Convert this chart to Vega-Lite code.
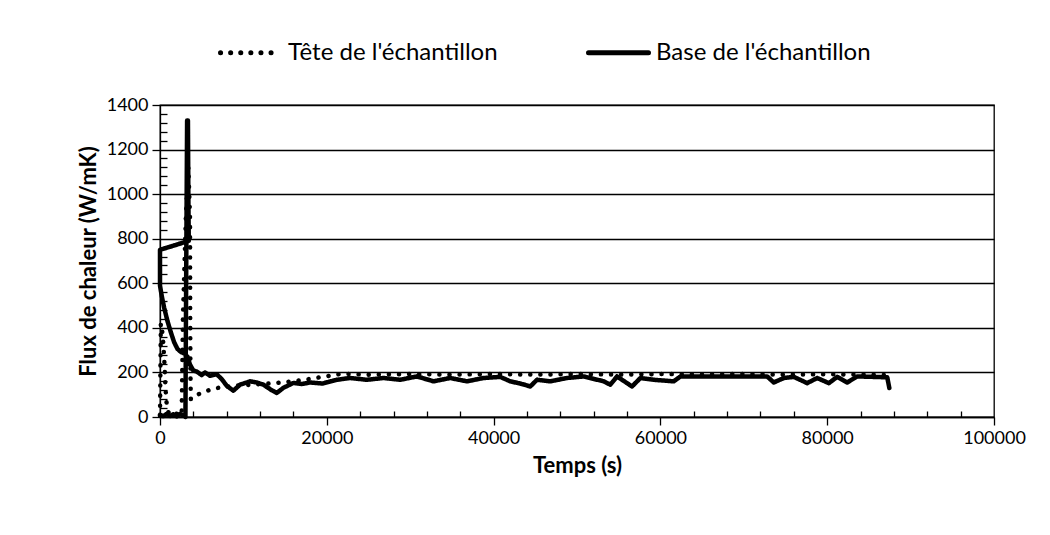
{
  "$schema": "https://vega.github.io/schema/vega-lite/v6.json",
  "autosize": {"type": "none"},
  "width": 834,
  "height": 312,
  "padding": {"left": 160, "top": 105, "right": 56, "bottom": 118},
  "background": "white",
  "config": {
    "font": "Lato",
    "view": {"stroke": "black", "strokeWidth": 1.3},
    "axis": {"labelFont": "Lato", "titleFont": "Lato", "labelFontSize": 18, "titleFontSize": 22, "titleFontWeight": "bold", "labelColor": "black", "titleColor": "black", "domainColor": "black", "tickColor": "black", "gridColor": "black", "domainWidth": 1.3, "tickWidth": 1.3, "gridWidth": 1.3, "labelOverlap": false, "labelFlush": false}
  },
  "data": {
    "values": [
      {"s": "Tête de l'échantillon", "i": 0, "t": 0, "v": 5},
      {"s": "Tête de l'échantillon", "i": 1, "t": 100, "v": 420},
      {"s": "Tête de l'échantillon", "i": 2, "t": 250, "v": 390},
      {"s": "Tête de l'échantillon", "i": 3, "t": 400, "v": 330},
      {"s": "Tête de l'échantillon", "i": 4, "t": 550, "v": 230},
      {"s": "Tête de l'échantillon", "i": 5, "t": 650, "v": 140},
      {"s": "Tête de l'échantillon", "i": 6, "t": 750, "v": 75},
      {"s": "Tête de l'échantillon", "i": 7, "t": 900, "v": 35},
      {"s": "Tête de l'échantillon", "i": 8, "t": 1100, "v": 12},
      {"s": "Tête de l'échantillon", "i": 9, "t": 1500, "v": 8},
      {"s": "Tête de l'échantillon", "i": 10, "t": 2000, "v": 15},
      {"s": "Tête de l'échantillon", "i": 11, "t": 2300, "v": 6},
      {"s": "Tête de l'échantillon", "i": 12, "t": 2600, "v": 10},
      {"s": "Tête de l'échantillon", "i": 13, "t": 2750, "v": 450},
      {"s": "Tête de l'échantillon", "i": 14, "t": 3100, "v": 900},
      {"s": "Tête de l'échantillon", "i": 15, "t": 3400, "v": 1120},
      {"s": "Tête de l'échantillon", "i": 16, "t": 3600, "v": 900},
      {"s": "Tête de l'échantillon", "i": 17, "t": 3620, "v": 500},
      {"s": "Tête de l'échantillon", "i": 18, "t": 3650, "v": 200},
      {"s": "Tête de l'échantillon", "i": 19, "t": 3700, "v": 80},
      {"s": "Tête de l'échantillon", "i": 20, "t": 4000, "v": 92},
      {"s": "Tête de l'échantillon", "i": 21, "t": 5400, "v": 115},
      {"s": "Tête de l'échantillon", "i": 22, "t": 6800, "v": 130},
      {"s": "Tête de l'échantillon", "i": 23, "t": 9000, "v": 140},
      {"s": "Tête de l'échantillon", "i": 24, "t": 11000, "v": 145},
      {"s": "Tête de l'échantillon", "i": 25, "t": 13800, "v": 152},
      {"s": "Tête de l'échantillon", "i": 26, "t": 17000, "v": 165},
      {"s": "Tête de l'échantillon", "i": 27, "t": 19500, "v": 180},
      {"s": "Tête de l'échantillon", "i": 28, "t": 21800, "v": 194},
      {"s": "Tête de l'échantillon", "i": 29, "t": 25000, "v": 190},
      {"s": "Tête de l'échantillon", "i": 30, "t": 30000, "v": 193},
      {"s": "Tête de l'échantillon", "i": 31, "t": 35000, "v": 190},
      {"s": "Tête de l'échantillon", "i": 32, "t": 40000, "v": 193},
      {"s": "Tête de l'échantillon", "i": 33, "t": 45000, "v": 190},
      {"s": "Tête de l'échantillon", "i": 34, "t": 50000, "v": 193},
      {"s": "Tête de l'échantillon", "i": 35, "t": 55000, "v": 190},
      {"s": "Tête de l'échantillon", "i": 36, "t": 60000, "v": 193},
      {"s": "Tête de l'échantillon", "i": 37, "t": 65000, "v": 191},
      {"s": "Tête de l'échantillon", "i": 38, "t": 70000, "v": 193},
      {"s": "Tête de l'échantillon", "i": 39, "t": 75000, "v": 190},
      {"s": "Tête de l'échantillon", "i": 40, "t": 80000, "v": 192},
      {"s": "Tête de l'échantillon", "i": 41, "t": 85000, "v": 190},
      {"s": "Tête de l'échantillon", "i": 42, "t": 87450, "v": 188},
      {"s": "Base de l'échantillon", "i": 0, "t": 0, "v": 10},
      {"s": "Base de l'échantillon", "i": 1, "t": 400, "v": 4},
      {"s": "Base de l'échantillon", "i": 2, "t": 800, "v": 14},
      {"s": "Base de l'échantillon", "i": 3, "t": 1200, "v": 5},
      {"s": "Base de l'échantillon", "i": 4, "t": 1600, "v": 12},
      {"s": "Base de l'échantillon", "i": 5, "t": 2000, "v": 3},
      {"s": "Base de l'échantillon", "i": 6, "t": 2400, "v": 14},
      {"s": "Base de l'échantillon", "i": 7, "t": 2800, "v": 6},
      {"s": "Base de l'échantillon", "i": 8, "t": 3000, "v": 8},
      {"s": "Base de l'échantillon", "i": 9, "t": 3050, "v": 0},
      {"s": "Base de l'échantillon", "i": 10, "t": 3150, "v": 700},
      {"s": "Base de l'échantillon", "i": 11, "t": 3250, "v": 1330},
      {"s": "Base de l'échantillon", "i": 12, "t": 3350, "v": 1330},
      {"s": "Base de l'échantillon", "i": 13, "t": 3400, "v": 1000},
      {"s": "Base de l'échantillon", "i": 14, "t": 3450, "v": 790},
      {"s": "Base de l'échantillon", "i": 15, "t": 0, "v": 750},
      {"s": "Base de l'échantillon", "i": 16, "t": 0, "v": 590},
      {"s": "Base de l'échantillon", "i": 17, "t": 200, "v": 545},
      {"s": "Base de l'échantillon", "i": 18, "t": 500, "v": 490},
      {"s": "Base de l'échantillon", "i": 19, "t": 900, "v": 430},
      {"s": "Base de l'échantillon", "i": 20, "t": 1300, "v": 380},
      {"s": "Base de l'échantillon", "i": 21, "t": 1700, "v": 335},
      {"s": "Base de l'échantillon", "i": 22, "t": 2100, "v": 305},
      {"s": "Base de l'échantillon", "i": 23, "t": 2500, "v": 292},
      {"s": "Base de l'échantillon", "i": 24, "t": 3000, "v": 283},
      {"s": "Base de l'échantillon", "i": 25, "t": 3300, "v": 270},
      {"s": "Base de l'échantillon", "i": 26, "t": 3600, "v": 235},
      {"s": "Base de l'échantillon", "i": 27, "t": 4000, "v": 208},
      {"s": "Base de l'échantillon", "i": 28, "t": 4400, "v": 204},
      {"s": "Base de l'échantillon", "i": 29, "t": 5000, "v": 188},
      {"s": "Base de l'échantillon", "i": 30, "t": 5400, "v": 200},
      {"s": "Base de l'échantillon", "i": 31, "t": 6000, "v": 185},
      {"s": "Base de l'échantillon", "i": 32, "t": 6800, "v": 192},
      {"s": "Base de l'échantillon", "i": 33, "t": 7400, "v": 170},
      {"s": "Base de l'échantillon", "i": 34, "t": 8000, "v": 140},
      {"s": "Base de l'échantillon", "i": 35, "t": 8800, "v": 118},
      {"s": "Base de l'échantillon", "i": 36, "t": 9600, "v": 145},
      {"s": "Base de l'échantillon", "i": 37, "t": 10800, "v": 160},
      {"s": "Base de l'échantillon", "i": 38, "t": 11600, "v": 155},
      {"s": "Base de l'échantillon", "i": 39, "t": 12400, "v": 145},
      {"s": "Base de l'échantillon", "i": 40, "t": 13400, "v": 120},
      {"s": "Base de l'échantillon", "i": 41, "t": 14000, "v": 108},
      {"s": "Base de l'échantillon", "i": 42, "t": 14800, "v": 131},
      {"s": "Base de l'échantillon", "i": 43, "t": 16000, "v": 153},
      {"s": "Base de l'échantillon", "i": 44, "t": 17000, "v": 148},
      {"s": "Base de l'échantillon", "i": 45, "t": 18000, "v": 155},
      {"s": "Base de l'échantillon", "i": 46, "t": 19500, "v": 150},
      {"s": "Base de l'échantillon", "i": 47, "t": 21200, "v": 167},
      {"s": "Base de l'échantillon", "i": 48, "t": 22800, "v": 175},
      {"s": "Base de l'échantillon", "i": 49, "t": 24800, "v": 167},
      {"s": "Base de l'échantillon", "i": 50, "t": 26800, "v": 175},
      {"s": "Base de l'échantillon", "i": 51, "t": 28800, "v": 167},
      {"s": "Base de l'échantillon", "i": 52, "t": 30800, "v": 182},
      {"s": "Base de l'échantillon", "i": 53, "t": 32800, "v": 160},
      {"s": "Base de l'échantillon", "i": 54, "t": 34800, "v": 175},
      {"s": "Base de l'échantillon", "i": 55, "t": 36800, "v": 160},
      {"s": "Base de l'échantillon", "i": 56, "t": 38800, "v": 175},
      {"s": "Base de l'échantillon", "i": 57, "t": 40800, "v": 180},
      {"s": "Base de l'échantillon", "i": 58, "t": 42000, "v": 160},
      {"s": "Base de l'échantillon", "i": 59, "t": 43200, "v": 150},
      {"s": "Base de l'échantillon", "i": 60, "t": 44400, "v": 137},
      {"s": "Base de l'échantillon", "i": 61, "t": 45200, "v": 167},
      {"s": "Base de l'échantillon", "i": 62, "t": 46800, "v": 160},
      {"s": "Base de l'échantillon", "i": 63, "t": 48800, "v": 175},
      {"s": "Base de l'échantillon", "i": 64, "t": 50800, "v": 182},
      {"s": "Base de l'échantillon", "i": 65, "t": 53200, "v": 160},
      {"s": "Base de l'échantillon", "i": 66, "t": 54000, "v": 145},
      {"s": "Base de l'échantillon", "i": 67, "t": 54800, "v": 182},
      {"s": "Base de l'échantillon", "i": 68, "t": 56000, "v": 152},
      {"s": "Base de l'échantillon", "i": 69, "t": 56600, "v": 137},
      {"s": "Base de l'échantillon", "i": 70, "t": 57600, "v": 175},
      {"s": "Base de l'échantillon", "i": 71, "t": 59200, "v": 167},
      {"s": "Base de l'échantillon", "i": 72, "t": 61600, "v": 160},
      {"s": "Base de l'échantillon", "i": 73, "t": 62400, "v": 182},
      {"s": "Base de l'échantillon", "i": 74, "t": 66000, "v": 182},
      {"s": "Base de l'échantillon", "i": 75, "t": 70000, "v": 182},
      {"s": "Base de l'échantillon", "i": 76, "t": 72800, "v": 182},
      {"s": "Base de l'échantillon", "i": 77, "t": 73600, "v": 155},
      {"s": "Base de l'échantillon", "i": 78, "t": 74800, "v": 175},
      {"s": "Base de l'échantillon", "i": 79, "t": 76000, "v": 180},
      {"s": "Base de l'échantillon", "i": 80, "t": 77600, "v": 152},
      {"s": "Base de l'échantillon", "i": 81, "t": 78800, "v": 175},
      {"s": "Base de l'échantillon", "i": 82, "t": 80200, "v": 152},
      {"s": "Base de l'échantillon", "i": 83, "t": 81200, "v": 180},
      {"s": "Base de l'échantillon", "i": 84, "t": 82400, "v": 155},
      {"s": "Base de l'échantillon", "i": 85, "t": 83600, "v": 182},
      {"s": "Base de l'échantillon", "i": 86, "t": 85500, "v": 180},
      {"s": "Base de l'échantillon", "i": 87, "t": 87200, "v": 178},
      {"s": "Base de l'échantillon", "i": 88, "t": 87450, "v": 130}
    ]
  },
  "mark": {"type": "line", "color": "black", "strokeWidth": 4.5, "strokeCap": "round", "strokeJoin": "round"},
  "encoding": {
    "x": {
      "field": "t", "type": "quantitative",
      "scale": {"domain": [0, 100000], "nice": false},
      "axis": {
        "title": "Temps (s)",
        "titlePadding": 8,
        "values": [0,4000,8000,12000,16000,20000,24000,28000,32000,36000,40000,44000,48000,52000,56000,60000,64000,68000,72000,76000,80000,84000,88000,92000,96000,100000],
        "labelExpr": "datum.value % 20000 === 0 ? format(datum.value, 'd') : ''",
        "tickSize": {"condition": {"test": "datum.value % 20000 === 0", "value": 8}, "value": -6},
        "labelPadding": 4,
        "grid": false
      }
    },
    "y": {
      "field": "v", "type": "quantitative",
      "scale": {"domain": [0, 1400], "nice": false},
      "axis": {
        "title": "Flux de chaleur (W/mK)",
        "titlePadding": 6,
        "values": [0,40,80,120,160,200,240,280,320,360,400,440,480,520,560,600,640,680,720,760,800,840,880,920,960,1000,1040,1080,1120,1160,1200,1240,1280,1320,1360,1400],
        "labelExpr": "datum.value % 200 === 0 ? format(datum.value, 'd') : ''",
        "tickSize": {"condition": {"test": "datum.value % 200 === 0", "value": 8}, "value": -7},
        "gridOpacity": {"condition": {"test": "datum.value % 200 === 0", "value": 1}, "value": 0},
        "labelPadding": 4,
        "grid": true
      }
    },
    "strokeDash": {
      "field": "s", "type": "nominal",
      "scale": {"domain": ["Tête de l'échantillon", "Base de l'échantillon"], "range": [[0.1, 10], [1, 0]]},
      "legend": {
        "title": null,
        "orient": "none",
        "direction": "horizontal",
        "legendX": 58,
        "legendY": -85,
        "symbolType": "stroke",
        "symbolSize": 3600,
        "symbolStrokeWidth": 5,
        "symbolStrokeColor": "black",
        "labelFont": "Lato",
        "labelFontSize": 24,
        "labelColor": "black",
        "labelLimit": 600,
        "labelOffset": 5,
        "columnPadding": 80,
        "encoding": {"symbols": {"strokeCap": {"value": "round"}}}
      }
    },
    "order": {"field": "i", "type": "quantitative"}
  }
}
